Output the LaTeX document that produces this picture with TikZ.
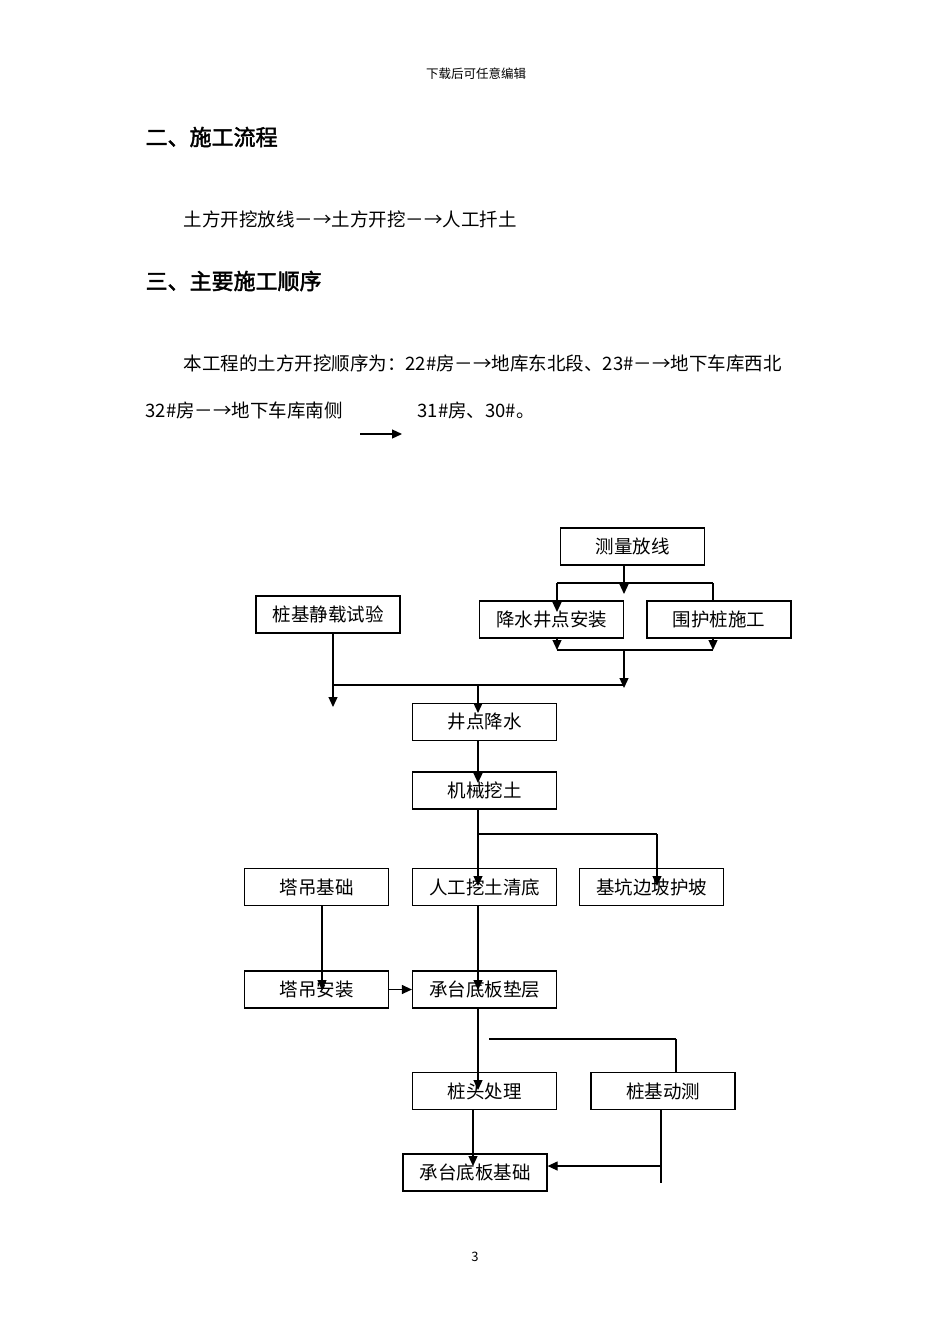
\documentclass[tikz,border=0pt]{standalone}
\usepackage{fontspec}
\setmainfont{Noto Sans CJK SC}
\newfontfamily\headfont[FakeBold=2]{Noto Sans CJK SC}
\usetikzlibrary{arrows.meta}

\begin{document}
\begin{tikzpicture}[x=1pt, y=-1pt, line width=1.2pt,
  every node/.style={inner sep=0pt},
  box/.style={draw, minimum width=144pt, minimum height=37pt, font=\fontsize{18.5}{20}\selectfont},
  txt/.style={anchor=west, font=\fontsize{18.5}{20}\selectfont},
  head/.style={anchor=west, font=\headfont\fontsize{22}{24}\selectfont},
  arr/.style={-{Triangle[length=10pt, width=9pt]}}]
  \useasboundingbox (0,0) rectangle (950,1344);
  % page text
  \node [font=\fontsize{12.5}{14}\selectfont] (hdr) at (476,74) {下载后可任意编辑};
  \node [head] (sec2) at (145,137) {二、施工流程};
  \node [txt] (flow) at (183,219) {土方开挖放线－→土方开挖－→人工扦土};
  \node [head] (sec3) at (145,281) {三、主要施工顺序};
  \node [txt] (seq1) at (183,363) {本工程的土方开挖顺序为：22\#房－→地库东北段、23\#－→地下车库西北};
  \node [txt] (seq2) at (145,410) {32\#房－→地下车库南侧};
  \node [txt] (seq3) at (417,410) {31\#房、30\#。};
  \coordinate (ar1) at (360,434);
  \coordinate (ar2) at (402,434);
  \draw [arr] (ar1) -- (ar2);
  \node [font=\fontsize{13}{14}\selectfont] (pg) at (475,1257) {3};
  % flow chart
  \node [box] (clfx) at (632.5,546.5) {测量放线};
  \node [box] (zjjz) at (328,614.5) {桩基静载试验};
  \node [box] (jsaz) at (551.5,619.5) {降水井点安装};
  \node [box] (whz) at (719,619.5) {围护桩施工};
  \node [box] (jdjs) at (484.5,722) {井点降水};
  \node [box] (jxwt) at (484.5,790.5) {机械挖土};
  \node [box] (tdjc) at (316.5,887) {塔吊基础};
  \node [box] (rgwt) at (484.5,887) {人工挖土清底};
  \node [box] (jkhp) at (651.5,887) {基坑边坡护坡};
  \node [box] (tdaz) at (316.5,989.5) {塔吊安装};
  \node [box] (ctdc) at (484.5,989.5) {承台底板垫层};
  \node [box] (ztcl) at (484.5,1091) {桩头处理};
  \node [box] (zjdc) at (663,1091) {桩基动测};
  \node [box] (ctjc) at (475,1172.5) {承台底板基础};
  \coordinate (t1) at (624,594);
  \coordinate (a1) at (557,583);
  \coordinate (b1) at (713,583);
  \coordinate (t2) at (557,612);
  \coordinate (a2) at (557,650);
  \coordinate (b2) at (713,650);
  \coordinate (m2) at (624,650);
  \coordinate (t3) at (624,688);
  \coordinate (a3) at (333,685);
  \coordinate (b3) at (624,685);
  \coordinate (t4) at (333,707);
  \coordinate (m3) at (478,685);
  \coordinate (t5) at (478,713);
  \coordinate (t6) at (478,783);
  \coordinate (t7) at (478,886);
  \coordinate (a4) at (478,834);
  \coordinate (b4) at (657,834);
  \coordinate (t8) at (657,886);
  \coordinate (t9) at (322,990);
  \coordinate (t10) at (478,990);
  \coordinate (t11) at (478,1090);
  \coordinate (a5) at (489,1039);
  \coordinate (b5) at (676,1039);
  \coordinate (t12) at (473,1166);
  \coordinate (e1) at (661,1183);
  \coordinate (m4) at (661,1166);
  \draw [arr] (clfx.south -| t1) -- (t1);
  \draw (a1) -- (b1);
  \draw [arr] (a1) -- (t2);
  \draw (b1) -- (whz.north -| b1);
  \draw [arr] (jsaz.south -| a2) -- (a2);
  \draw [arr] (whz.south -| b2) -- (b2);
  \draw (a2) -- (b2);
  \draw [arr] (m2) -- (t3);
  \draw (a3) -- (b3);
  \draw [arr] (zjjz.south -| a3) -- (t4);
  \draw [arr] (m3) -- (t5);
  \draw [arr] (jdjs.south -| t6) -- (t6);
  \draw [arr] (jxwt.south -| t7) -- (t7);
  \draw (a4) -- (b4);
  \draw [arr] (b4) -- (t8);
  \draw [arr] (tdjc.south -| t9) -- (t9);
  \draw [arr] (tdaz.east) -- (ctdc.west);
  \draw [arr] (rgwt.south -| t10) -- (t10);
  \draw [arr] (ctdc.south -| t11) -- (t11);
  \draw (a5) -- (b5);
  \draw (b5) -- (zjdc.north -| b5);
  \draw [arr] (ztcl.south -| t12) -- (t12);
  \draw (zjdc.south -| e1) -- (e1);
  \draw [arr] (m4) -- (ctjc.east |- m4);
\end{tikzpicture}
\end{document}
